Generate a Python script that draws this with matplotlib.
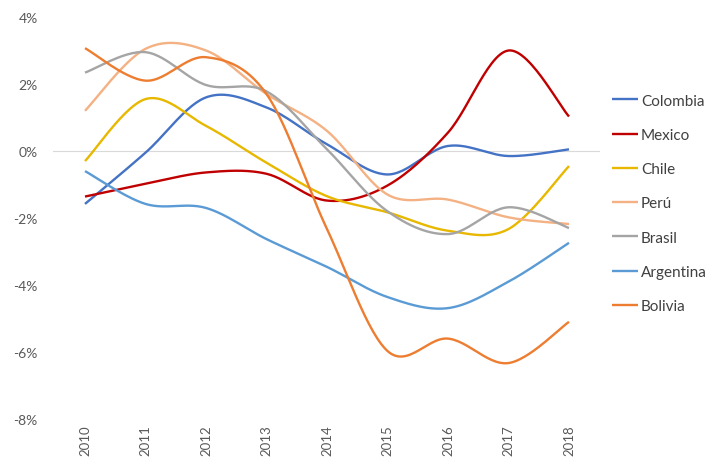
import numpy as np
import matplotlib
matplotlib.use("Agg")
from matplotlib import pyplot as plt
from matplotlib.ticker import FuncFormatter

plt.rcParams['font.family'] = ['Lato', 'DejaVu Sans']

years = [2010, 2011, 2012, 2013, 2014, 2015, 2016, 2017, 2018]
colombia = [-1.58, -0.05, 1.60, 1.30, 0.20, -0.70, 0.15, -0.15, 0.05]
mexico = [-1.36, -0.98, -0.64, -0.68, -1.48, -1.03, 0.55, 3.00, 1.03]
chile = [-0.30, 1.55, 0.75, -0.35, -1.35, -1.83, -2.38, -2.33, -0.45]
peru = [1.20, 3.05, 3.00, 1.70, 0.60, -1.30, -1.45, -1.98, -2.18]
brasil = [2.34, 2.95, 1.97, 1.78, 0.05, -1.80, -2.48, -1.68, -2.30]
argentina = [-0.60, -1.58, -1.70, -2.63, -3.46, -4.36, -4.69, -3.90, -2.74]
bolivia = [3.07, 2.10, 2.80, 1.70, -2.33, -5.97, -5.60, -6.33, -5.10]

names = ['Colombia', 'Mexico', 'Chile', 'Perú', 'Brasil', 'Argentina', 'Bolivia']
series = [colombia, mexico, chile, peru, brasil, argentina, bolivia]
colors = ['#4472C4', '#C00000', '#E8B800', '#F4B183', '#A5A5A5', '#5B9BD5', '#ED7D31']


def smooth(x, y, n=30):
    # bezier smoothing like excel's "smoothed line"
    x = np.asarray(x, float)
    y = np.asarray(y, float)
    pts = np.column_stack([x, y])
    out = []
    t = np.linspace(0, 1, n)[:, None]
    for i in range(len(pts) - 1):
        p0 = pts[max(i - 1, 0)]
        p1 = pts[i]
        p2 = pts[i + 1]
        p3 = pts[min(i + 2, len(pts) - 1)]
        c1 = p1 + (p2 - p0) / 6.0
        c2 = p2 - (p3 - p1) / 6.0
        seg = ((1 - t) ** 3) * p1 + 3 * ((1 - t) ** 2) * t * c1 \
            + 3 * (1 - t) * t ** 2 * c2 + t ** 3 * p2
        out.append(seg if i == 0 else seg[1:])
    out = np.vstack(out)
    return out[:, 0], out[:, 1]


fig = plt.figure(figsize=(7.11, 4.6), dpi=100)
ax = fig.add_axes([53 / 711, 1 - 420 / 460, (600 - 53) / 711, (420 - 18) / 460])

ax.axhline(0, color='#D9D9D9', lw=0.8, zorder=0)

for name, vals, col in zip(names, series, colors):
    sx, sy = smooth(years, vals)
    ax.plot(sx, sy, color=col, lw=1.7, label=name, solid_capstyle='butt')

ax.set_ylim(-8, 4)
ax.set_yticks([-8, -6, -4, -2, 0, 2, 4])
ax.yaxis.set_major_formatter(FuncFormatter(lambda v, p: '%d%%' % v))
ax.set_xlim(2010 - 32 / 60.5, 2018 + 31 / 60.5)
ax.set_xticks(years)
ax.set_xticklabels([str(y) for y in years], rotation=90)

for s in ax.spines.values():
    s.set_visible(False)
ax.tick_params(axis='y', length=0, pad=11, labelsize=10, labelcolor='#595959')
ax.tick_params(axis='x', length=0, pad=4, labelsize=9.5, labelcolor='#595959')

leg = fig.legend(loc='center left', bbox_to_anchor=(612 / 711, 1 - 204.5 / 460),
                 frameon=False, fontsize=11, handlelength=1.7, handletextpad=0.2,
                 labelspacing=1.33, borderpad=0, borderaxespad=0)
for t in leg.get_texts():
    t.set_color('#404040')

fig.savefig('out.png', dpi=100)
